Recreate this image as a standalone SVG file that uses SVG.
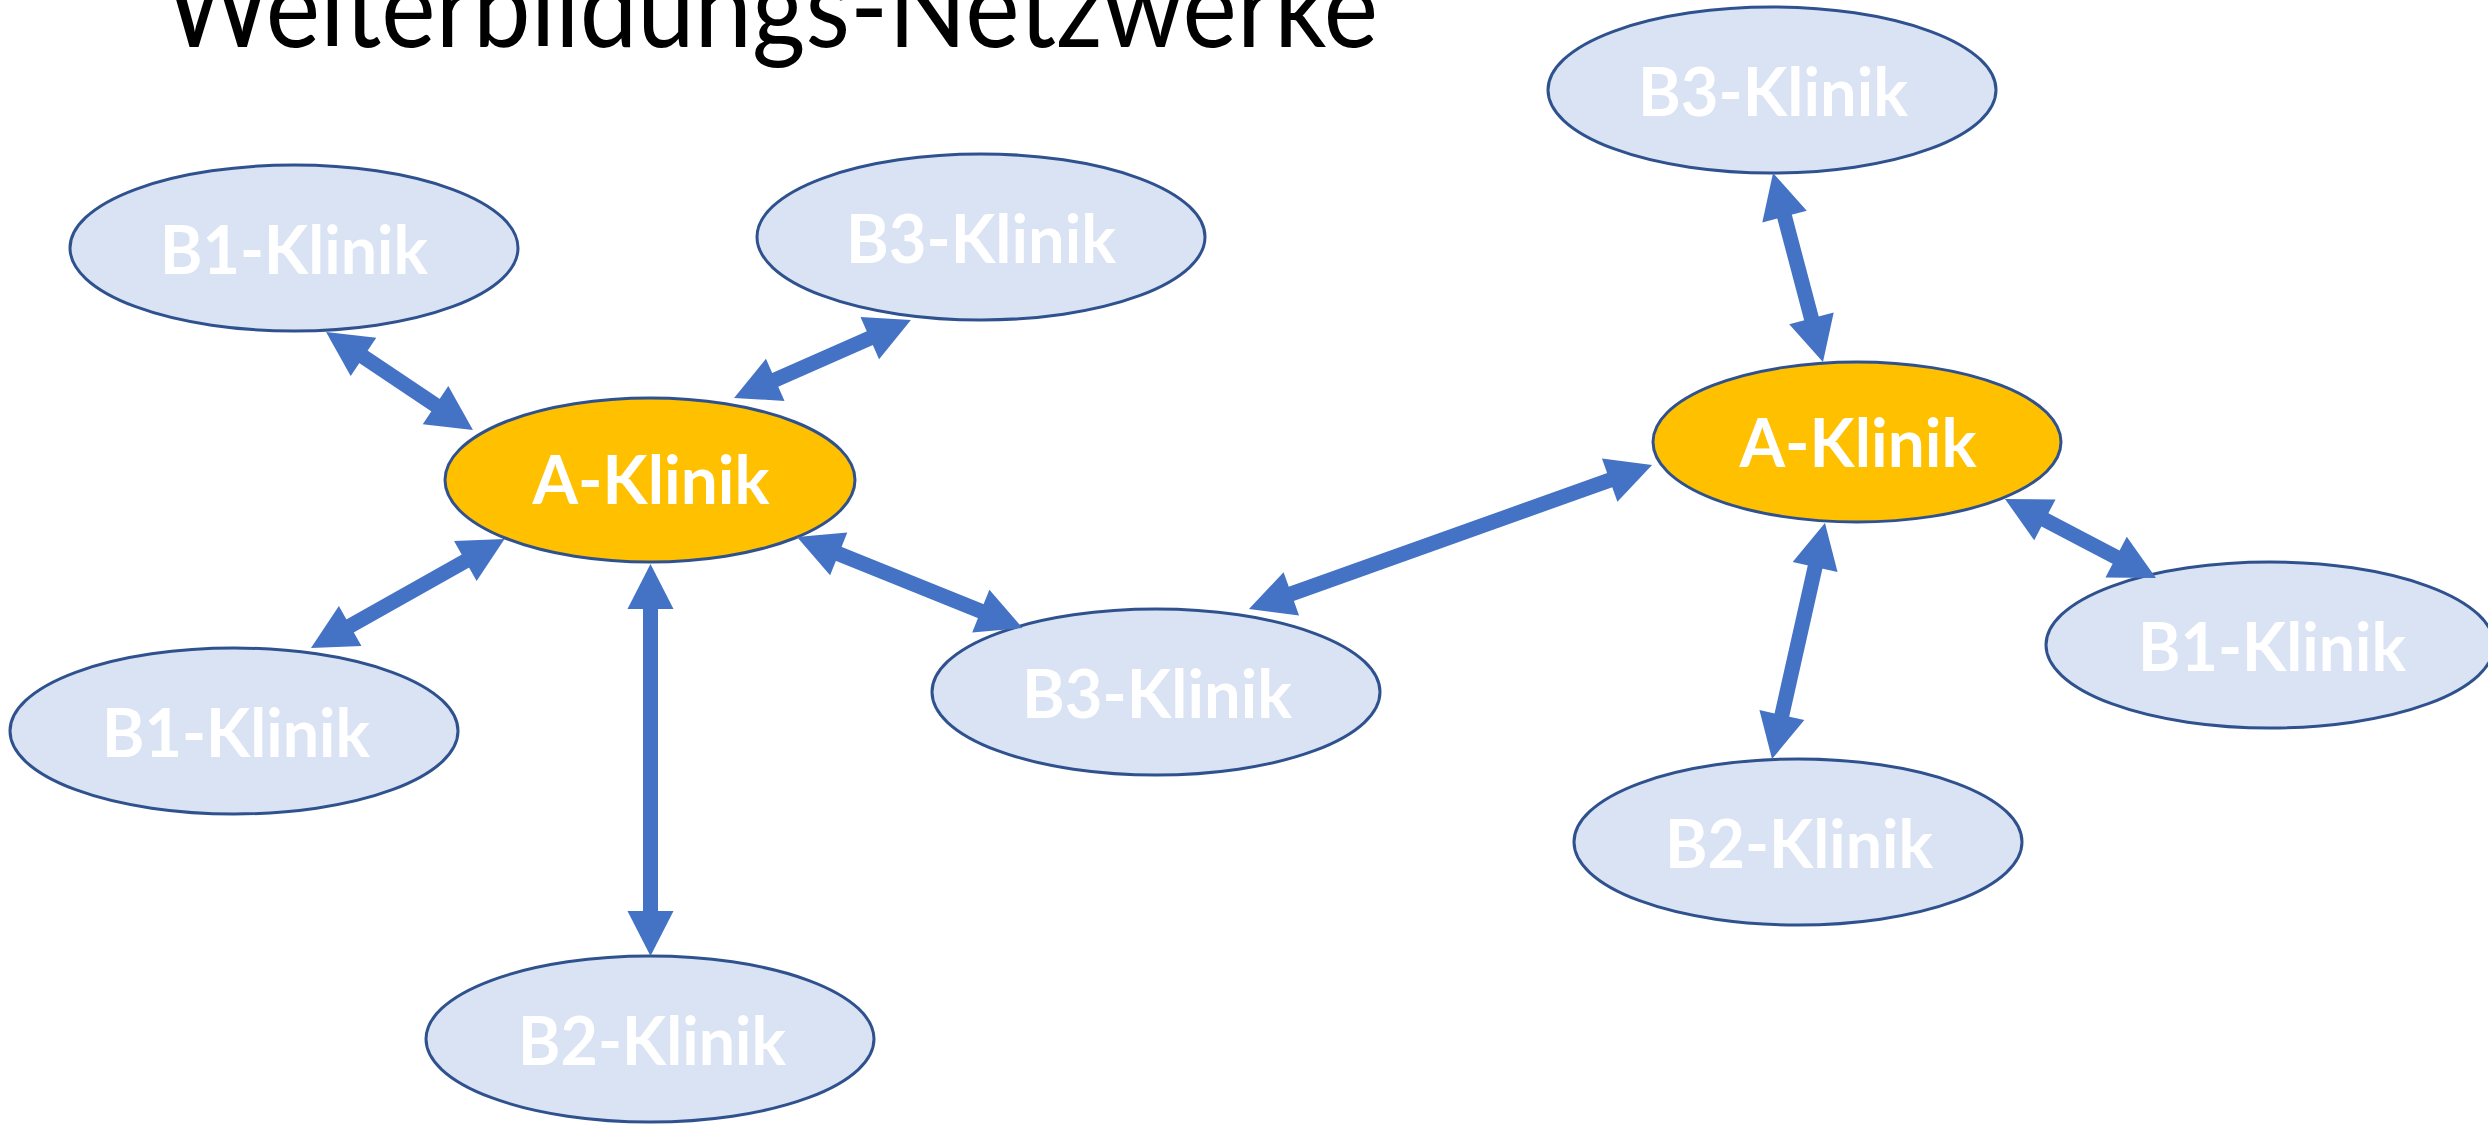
<svg xmlns="http://www.w3.org/2000/svg" width="2488" height="1124" viewBox="0 0 2488 1124">
<style>
.b{fill:#DAE3F3;stroke:#2F528F;stroke-width:3}
.a{fill:#FFC000;stroke:#2F528F;stroke-width:3}
.t{font-family:Lato,"Open Sans","Liberation Sans",sans-serif;font-weight:bold;font-size:66px;fill:#FFFFFF;text-anchor:middle}
.title{font-family:Lato,"Open Sans","Liberation Sans",sans-serif;font-size:112px;fill:#000000}
.c line{stroke:#4472C4;stroke-width:15;marker-start:url(#ah);marker-end:url(#ah)}
</style>
<defs>
<marker id="ah" markerUnits="userSpaceOnUse" markerWidth="46" markerHeight="46" refX="15" refY="23" orient="auto-start-reverse" overflow="visible">
<path d="M0,0 L45,23 L0,46 z" fill="#4472C4"/>
</marker>
</defs>
<rect width="2488" height="1124" fill="#FFFFFF"/>
<text class="title" x="165" y="47" textLength="1213" lengthAdjust="spacingAndGlyphs">Weiterbildungs-Netzwerke</text>
<g id="n_b1_tl"><ellipse class="b" cx="294" cy="248" rx="224" ry="83"/><text class="t" x="294" y="274" textLength="268" lengthAdjust="spacingAndGlyphs">B1-Klinik</text></g>
<g id="n_b3_tm"><ellipse class="b" cx="981" cy="237" rx="224" ry="83"/><text class="t" x="981" y="263" textLength="270" lengthAdjust="spacingAndGlyphs">B3-Klinik</text></g>
<g id="n_a_l"><ellipse class="a" cx="650" cy="480" rx="205" ry="82"/><text class="t" x="651" y="504" textLength="237" lengthAdjust="spacingAndGlyphs">A-Klinik</text></g>
<g id="n_b1_l"><ellipse class="b" cx="234" cy="731" rx="224" ry="83"/><text class="t" x="236" y="757" textLength="268" lengthAdjust="spacingAndGlyphs">B1-Klinik</text></g>
<g id="n_b3_c"><ellipse class="b" cx="1156" cy="692" rx="224" ry="83"/><text class="t" x="1157" y="718" textLength="270" lengthAdjust="spacingAndGlyphs">B3-Klinik</text></g>
<g id="n_b2_b"><ellipse class="b" cx="650" cy="1039" rx="224" ry="83"/><text class="t" x="652" y="1065" textLength="268" lengthAdjust="spacingAndGlyphs">B2-Klinik</text></g>
<g id="n_b3_tr"><ellipse class="b" cx="1772" cy="90" rx="224" ry="83"/><text class="t" x="1773" y="116" textLength="270" lengthAdjust="spacingAndGlyphs">B3-Klinik</text></g>
<g id="n_a_r"><ellipse class="a" cx="1857" cy="442" rx="204" ry="80"/><text class="t" x="1858" y="467" textLength="237" lengthAdjust="spacingAndGlyphs">A-Klinik</text></g>
<g id="n_b1_r"><ellipse class="b" cx="2270" cy="645" rx="224" ry="83"/><text class="t" x="2272" y="671" textLength="268" lengthAdjust="spacingAndGlyphs">B1-Klinik</text></g>
<g id="n_b2_r"><ellipse class="b" cx="1798" cy="842" rx="224" ry="83"/><text class="t" x="1799" y="868" textLength="268" lengthAdjust="spacingAndGlyphs">B2-Klinik</text></g>
<g id="connectors" class="c">
<line x1="351" y1="348.6" x2="448" y2="413.4"/>
<line x1="883.5" y1="332.1" x2="761.5" y2="385.9"/>
<line x1="478.4" y1="553.7" x2="337.1" y2="633.3"/>
<line x1="650.5" y1="594" x2="650.5" y2="926"/>
<line x1="824.8" y1="548.2" x2="994.7" y2="616.8"/>
<line x1="1277.2" y1="598.9" x2="1623.8" y2="475.1"/>
<line x1="1780.7" y1="202" x2="1815.3" y2="333"/>
<line x1="1818.4" y1="552.3" x2="1778.6" y2="729.7"/>
<line x1="2031.6" y1="512.9" x2="2129.4" y2="564.1"/>
</g>
</svg>
